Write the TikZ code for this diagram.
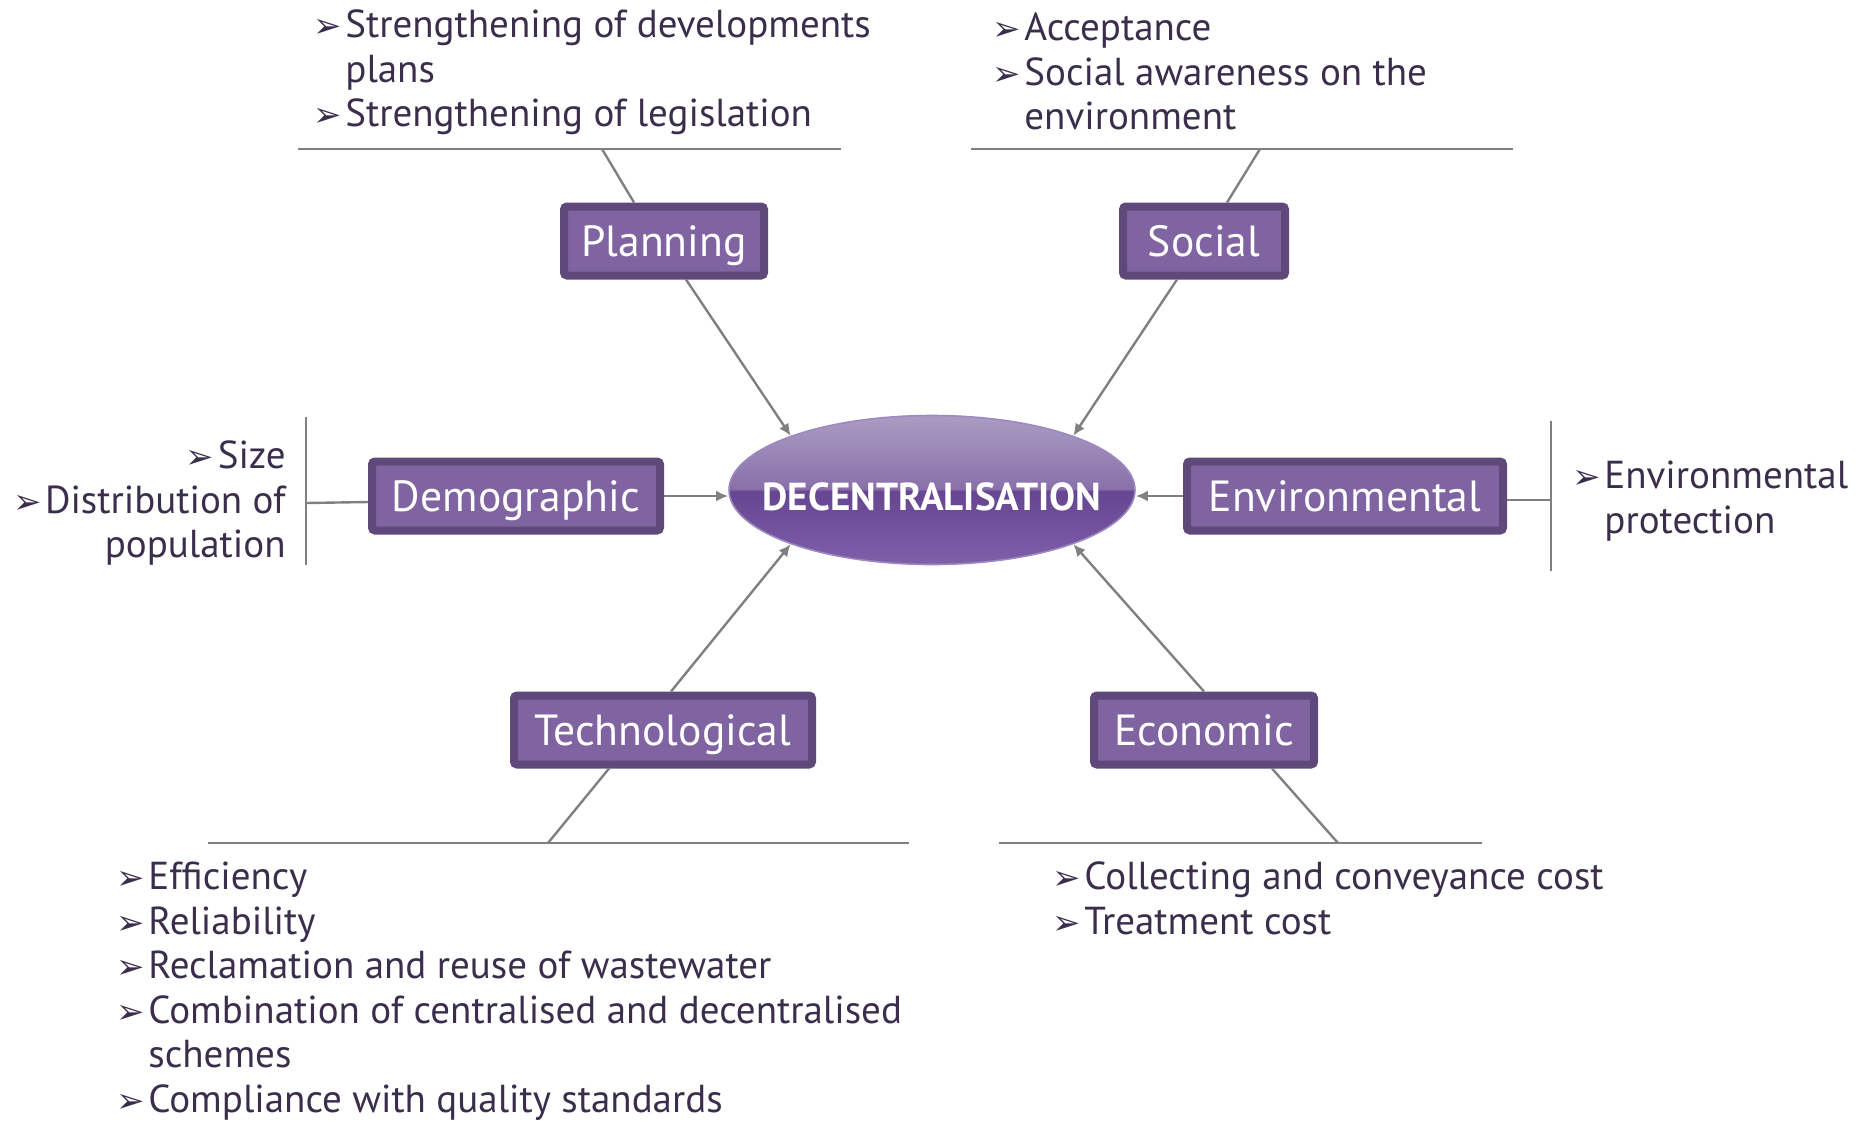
\documentclass[tikz,border=0pt]{standalone}
\usepackage{fontspec}
\setmainfont{PT Sans}
\newfontfamily\arrowfont{DejaVu Sans}
\usetikzlibrary{arrows.meta, positioning, shapes.geometric, calc}

\definecolor{boxfill}{HTML}{8064A2}
\definecolor{boxline}{HTML}{5F497A}
\definecolor{txt}{HTML}{3B2E4D}
\definecolor{wirecol}{HTML}{808080}
\definecolor{elltop}{HTML}{AA9CC2}
\definecolor{ellhigh}{HTML}{8970AA}
\definecolor{elllow}{HTML}{664591}
\definecolor{ellbot}{HTML}{7F60A9}
\definecolor{ellrim}{HTML}{9C89C2}

\pgfdeclareverticalshading{glossy}{100bp}{color(0bp)=(ellbot); color(25bp)=(ellbot); color(49.6bp)=(elllow); color(50.4bp)=(ellhigh); color(75bp)=(elltop); color(100bp)=(elltop)}

\newcommand{\bul}{\makebox[16pt][l]{\arrowfont\fontsize{17}{17}\selectfont\char"27A2}}

\tikzset{
  factor/.style={rectangle, rounded corners=1.5pt, draw=boxline, line width=4pt, fill=boxfill, text=white, font=\fontsize{21.8}{24}\selectfont, inner sep=0pt, minimum height=34.5pt, text height=15.4pt, text depth=0pt},
  notes/.style={text=txt, inner sep=0pt, font=\fontsize{19.5}{22.3}\selectfont},
  wire/.style={draw=wirecol, line width=1.2pt},
  feed/.style={wire, -{Latex[length=6pt,width=5.5pt]}},
}

\begin{document}
\begin{tikzpicture}[x=0.5pt, y=-0.5pt]
\useasboundingbox (0,0) rectangle (1868,1121);

% the centre
\node[ellipse, shading=glossy, draw=ellrim, line width=0.8pt, minimum width=203pt, minimum height=74.5pt, inner sep=0pt] (centre) at (932,490) {};
\node[text=white, inner sep=0pt, text height=13.8pt, text depth=0pt, font=\bfseries\fontsize{19.5}{22}\selectfont] (centretext) at (932,497) {DECENTRALISATION};

% the six factors
\node[factor, minimum width=100pt] (planning) at (664,241) {Planning};
\node[factor, minimum width=81pt] (social) at (1204,241) {Social};
\node[factor, minimum width=144pt] (demographic) at (516,496) {Demographic};
\node[factor, minimum width=158pt] (environmental) at (1345,496) {Environmental};
\node[factor, minimum width=149pt] (technological) at (663,730) {Technological};
\node[factor, minimum width=110pt] (economic) at (1204,730) {Economic};

\draw[feed] ([xshift=11pt]planning.south) -- (centre.159);
\draw[feed] ([xshift=-13.5pt]social.south) -- (centre.21);
\draw[feed] (demographic.east) -- (demographic.east -| centre.west);
\draw[feed] (environmental.west) -- (environmental.west -| centre.east);
\draw[feed] ([xshift=4pt]technological.north) -- (centre.201);
\draw[feed] (economic.north) -- (centre.339);

% brackets to the notes
\coordinate (plL) at (298,149); \coordinate (plR) at (841,149); \coordinate (plJ) at (602,149);
\coordinate (soL) at (971,149); \coordinate (soR) at (1513,149); \coordinate (soJ) at (1260,149);
\coordinate (deT) at (306,417); \coordinate (deB) at (306,565); \coordinate (deJ) at (306,503);
\coordinate (enT) at (1551,421); \coordinate (enB) at (1551,571); \coordinate (enJ) at (1551,500);
\coordinate (teL) at (208,843); \coordinate (teR) at (909,843); \coordinate (teJ) at (548,843);
\coordinate (ecL) at (999,843); \coordinate (ecR) at (1482,843); \coordinate (ecJ) at (1338,843);

\draw[wire] (plL) -- (plR);
\draw[wire] (plJ) -- ([xshift=-15pt]planning.north);
\draw[wire] (soL) -- (soR);
\draw[wire] (soJ) -- ([xshift=11.5pt]social.north);
\draw[wire] (deT) -- (deB);
\draw[wire] (deJ) -- ([yshift=-3pt]demographic.west);
\draw[wire] (enT) -- (enB);
\draw[wire] (enJ) -- ([yshift=-2pt]environmental.east);
\draw[wire] (teL) -- (teR);
\draw[wire] (teJ) -- ([xshift=-27pt]technological.south);
\draw[wire] (ecL) -- (ecR);
\draw[wire] (ecJ) -- ([xshift=34pt]economic.south);

% notes
\node[notes, anchor=base west] (plannotes) at (313,37.5) {\begin{tabular}[t]{@{}l@{}l@{}}\bul&Strengthening of developments\\&plans\\\bul&Strengthening of legislation\end{tabular}};
\node[notes, anchor=base west] (socnotes) at (992,40.5) {\begin{tabular}[t]{@{}l@{}l@{}}\bul&Acceptance\\\bul&Social awareness on the\\&environment\end{tabular}};
\node[notes, anchor=base east] (demnotes) at (286,468.5) {\begin{tabular}[t]{@{}r@{}}\bul Size\\\bul Distribution of\\population\end{tabular}};
\node[notes, anchor=base west] (envnotes) at (1572,488.5) {\begin{tabular}[t]{@{}l@{}l@{}}\bul&Environmental\\&protection\end{tabular}};
\node[notes, anchor=base west] (technotes) at (116,889.5) {\begin{tabular}[t]{@{}l@{}l@{}}\bul&Efficiency\\\bul&Reliability\\\bul&Reclamation and reuse of wastewater\\\bul&Combination of centralised and decentralised\\&schemes\\\bul&Compliance with quality standards\end{tabular}};
\node[notes, anchor=base west] (econotes) at (1052,889.5) {\begin{tabular}[t]{@{}l@{}l@{}}\bul&Collecting and conveyance cost\\\bul&Treatment cost\end{tabular}};
\end{tikzpicture}
\end{document}
